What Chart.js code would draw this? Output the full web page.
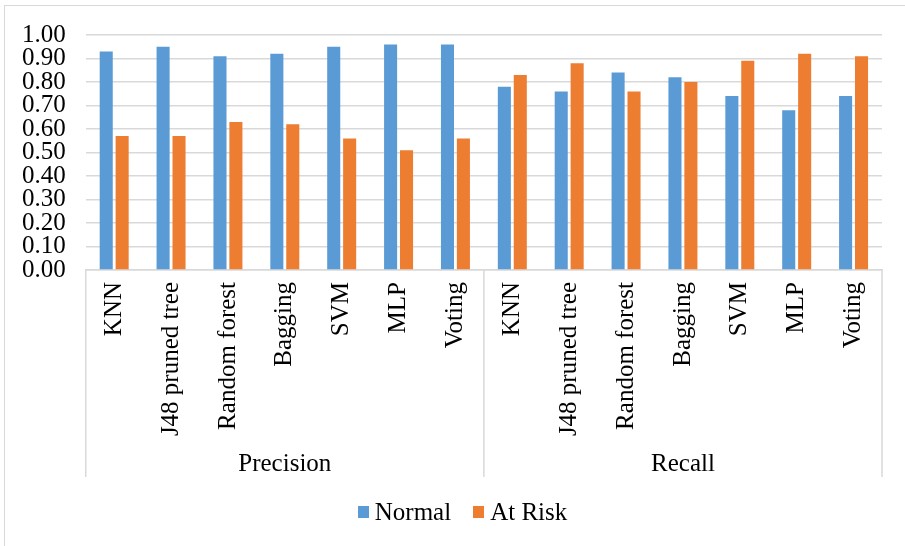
<!DOCTYPE html>
<html>
<head>
<meta charset="utf-8">
<script src="https://cdn.jsdelivr.net/npm/chart.js@4"></script>
<style>
  html, body { margin: 0; padding: 0; background: #fff; overflow: hidden; }
  #frame { position: absolute; left: 4px; top: 5px; width: 1000px; height: 1000px; border: 1.5px solid #d9d9d9; box-sizing: border-box; }
  #wrap { position: absolute; left: 0; top: 0; width: 905px; height: 546px; }
  #legend { position: absolute; left: 10px; width: 905px; top: 497px; height: 30px; display: flex; justify-content: center; align-items: center;
            font-family: "Liberation Serif", "Times New Roman", serif; font-size: 25px; color: #000; }
  #legend .item { display: flex; align-items: center; margin: 0 11px; }
  #legend .box { width: 11px; height: 12px; margin-right: 6px; }
</style>
</head>
<body>
<div id="frame"></div>
<div id="wrap"><canvas id="c" width="905" height="546"></canvas></div>
<div id="legend"></div>
<script>
const groups = ['Precision', 'Recall'];
const models = ['KNN', 'J48 pruned tree', 'Random forest', 'Bagging', 'SVM', 'MLP', 'Voting'];
const categories = [...models, ...models];
const normalValues = [0.93, 0.95, 0.91, 0.92, 0.95, 0.96, 0.96, 0.78, 0.76, 0.84, 0.82, 0.74, 0.68, 0.74];
const atRiskValues = [0.57, 0.57, 0.63, 0.62, 0.56, 0.51, 0.56, 0.83, 0.88, 0.76, 0.80, 0.89, 0.92, 0.91];
const seriesNames = ['Normal', 'At Risk'];
const seriesColors = ['#5B9BD5', '#ED7D31'];
const yTicks = [0, 0.1, 0.2, 0.3, 0.4, 0.5, 0.6, 0.7, 0.8, 0.9, 1.0];

const FONT = '"Liberation Serif", "Times New Roman", serif';
const FS = 25;
const GRID = '#d9d9d9';

const separators = {
  id: 'separators',
  afterDraw(chart) {
    const x = chart.scales.x, x2 = chart.scales.x2;
    const n = models.length;
    const ctx = chart.ctx;
    const xs = [x.left, (x.getPixelForValue(n - 1) + x.getPixelForValue(n)) / 2, x.right];
    const top = chart.chartArea.bottom;
    const bottom = x2.bottom - 7;
    ctx.save();
    ctx.strokeStyle = GRID;
    ctx.lineWidth = 1.5;
    xs.forEach(px => {
      ctx.beginPath();
      ctx.moveTo(px, top);
      ctx.lineTo(px, bottom);
      ctx.stroke();
    });
    ctx.restore();
  }
};

const chart = new Chart(document.getElementById('c'), {
  type: 'bar',
  data: {
    labels: categories,
    datasets: [
      { label: seriesNames[0], data: normalValues, backgroundColor: seriesColors[0], categoryPercentage: 0.56, barPercentage: 0.82 },
      { label: seriesNames[1], data: atRiskValues, backgroundColor: seriesColors[1], categoryPercentage: 0.56, barPercentage: 0.82 }
    ]
  },
  options: {
    responsive: false,
    animation: false,
    devicePixelRatio: 1,
    layout: { padding: { left: 2, right: 23, top: 22, bottom: 62 } },
    plugins: {
      legend: { display: false },
      tooltip: { enabled: false }
    },
    scales: {
      y: {
        min: 0,
        max: 1,
        afterBuildTicks(scale) { scale.ticks = yTicks.map(v => ({ value: v })); },
        ticks: {
          font: { family: FONT, size: FS },
          color: '#000',
          padding: 20,
          autoSkip: false,
          callback: v => Number(v).toFixed(2)
        },
        grid: { color: GRID, lineWidth: 1.5, drawTicks: false },
        border: { display: false }
      },
      x: {
        offset: true,
        afterFit(scale) { scale.height = 170; },
        ticks: {
          font: { family: FONT, size: FS },
          color: '#000',
          minRotation: 90,
          maxRotation: 90,
          autoSkip: false,
          padding: 12
        },
        grid: { display: false, drawTicks: false },
        border: { display: true, color: GRID, width: 1.5 }
      },
      x2: {
        type: 'category',
        labels: groups,
        position: 'bottom',
        offset: true,
        afterFit(scale) { scale.height = 44; },
        ticks: {
          font: { family: FONT, size: FS },
          color: '#000',
          padding: 9
        },
        grid: { display: false, drawTicks: false },
        border: { display: false }
      }
    }
  },
  plugins: [separators]
});

const legendEl = document.getElementById('legend');
chart.data.datasets.forEach(ds => {
  const item = document.createElement('div');
  item.className = 'item';
  const box = document.createElement('span');
  box.className = 'box';
  box.style.background = ds.backgroundColor;
  const txt = document.createElement('span');
  txt.textContent = ds.label;
  item.appendChild(box);
  item.appendChild(txt);
  legendEl.appendChild(item);
});
</script>
</body>
</html>
